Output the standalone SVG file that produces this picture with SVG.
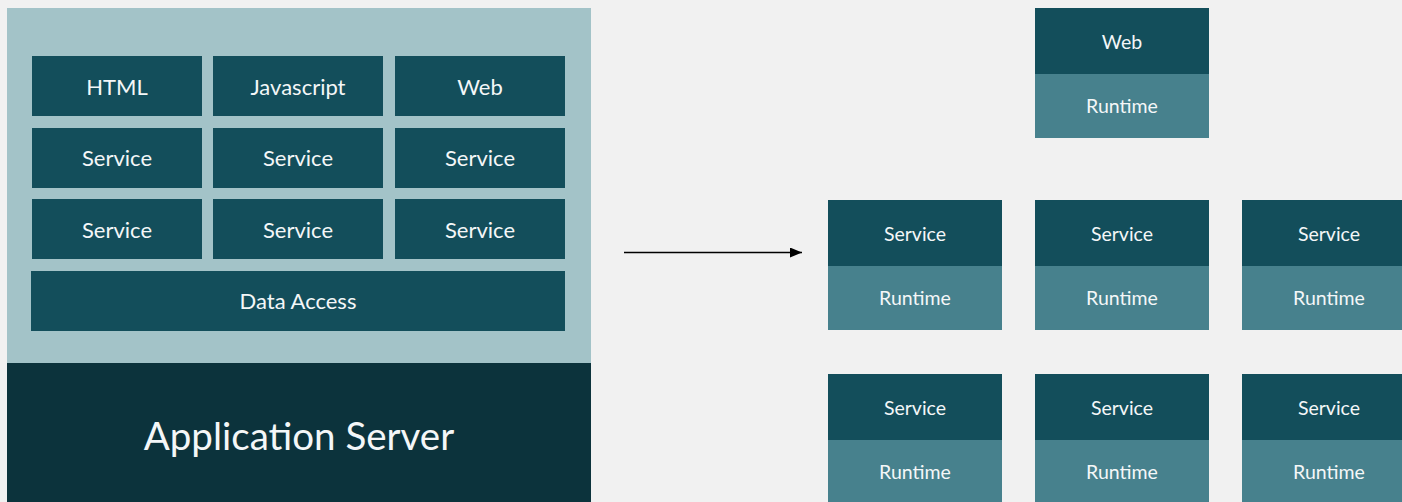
<svg xmlns="http://www.w3.org/2000/svg" width="1402" height="502" viewBox="0 0 1402 502">
<defs>
<style>
.dark{fill:#134e5b}
.mid{fill:#47818d}
.lbl{font-family:"Lato","Open Sans",sans-serif;fill:#f4f7f8;text-anchor:middle;dominant-baseline:central}
.l20{font-size:22px}
.l18{font-size:19.5px}
</style>
<marker id="arrow" markerWidth="12" markerHeight="10" refX="12" refY="5" orient="auto" markerUnits="userSpaceOnUse">
<path d="M0,0 L12,5 L0,10 Z" fill="#000"/>
</marker>
</defs>
<rect x="0" y="0" width="1402" height="502" fill="#f1f1f1"/>
<g id="app-server">
<rect x="7" y="8" width="584" height="355" fill="#a3c3c8"/>
<rect x="7" y="363" width="584" height="139" fill="#0c333c"/>
<text class="lbl" x="299" y="435" font-size="38.5">Application Server</text>
</g>
<g id="html"><rect class="dark" x="32" y="56" width="170" height="60"/><text class="lbl l20" x="117" y="86">HTML</text></g>
<g id="javascript"><rect class="dark" x="213" y="56" width="170" height="60"/><text class="lbl l20" x="298" y="86">Javascript</text></g>
<g id="web"><rect class="dark" x="395" y="56" width="170" height="60"/><text class="lbl l20" x="480" y="86">Web</text></g>
<g id="service-1"><rect class="dark" x="32" y="128" width="170" height="60"/><text class="lbl l20" x="117" y="157">Service</text></g>
<g id="service-2"><rect class="dark" x="213" y="128" width="170" height="60"/><text class="lbl l20" x="298" y="157">Service</text></g>
<g id="service-3"><rect class="dark" x="395" y="128" width="170" height="60"/><text class="lbl l20" x="480" y="157">Service</text></g>
<g id="service-4"><rect class="dark" x="32" y="199" width="170" height="60"/><text class="lbl l20" x="117" y="229">Service</text></g>
<g id="service-5"><rect class="dark" x="213" y="199" width="170" height="60"/><text class="lbl l20" x="298" y="229">Service</text></g>
<g id="service-6"><rect class="dark" x="395" y="199" width="170" height="60"/><text class="lbl l20" x="480" y="229">Service</text></g>
<g id="data-access"><rect class="dark" x="31" y="271" width="534" height="60"/><text class="lbl l20" x="298" y="300">Data Access</text></g>
<g id="connectors">
<line x1="624" y1="252.5" x2="802" y2="252.5" stroke="#000" stroke-width="1.5" marker-end="url(#arrow)"/>
</g>
<g id="ms-web"><rect class="dark" x="1035" y="8" width="174" height="66"/><rect class="mid" x="1035" y="74" width="174" height="64"/><text class="lbl l18" x="1122" y="41">Web</text><text class="lbl l18" x="1122" y="105">Runtime</text></g>
<g id="ms-1"><rect class="dark" x="828" y="200" width="174" height="66"/><rect class="mid" x="828" y="266" width="174" height="64"/><text class="lbl l18" x="915" y="233">Service</text><text class="lbl l18" x="915" y="297">Runtime</text></g>
<g id="ms-2"><rect class="dark" x="1035" y="200" width="174" height="66"/><rect class="mid" x="1035" y="266" width="174" height="64"/><text class="lbl l18" x="1122" y="233">Service</text><text class="lbl l18" x="1122" y="297">Runtime</text></g>
<g id="ms-3"><rect class="dark" x="1242" y="200" width="174" height="66"/><rect class="mid" x="1242" y="266" width="174" height="64"/><text class="lbl l18" x="1329" y="233">Service</text><text class="lbl l18" x="1329" y="297">Runtime</text></g>
<g id="ms-4"><rect class="dark" x="828" y="374" width="174" height="66"/><rect class="mid" x="828" y="440" width="174" height="64"/><text class="lbl l18" x="915" y="407">Service</text><text class="lbl l18" x="915" y="471">Runtime</text></g>
<g id="ms-5"><rect class="dark" x="1035" y="374" width="174" height="66"/><rect class="mid" x="1035" y="440" width="174" height="64"/><text class="lbl l18" x="1122" y="407">Service</text><text class="lbl l18" x="1122" y="471">Runtime</text></g>
<g id="ms-6"><rect class="dark" x="1242" y="374" width="174" height="66"/><rect class="mid" x="1242" y="440" width="174" height="64"/><text class="lbl l18" x="1329" y="407">Service</text><text class="lbl l18" x="1329" y="471">Runtime</text></g>
</svg>
